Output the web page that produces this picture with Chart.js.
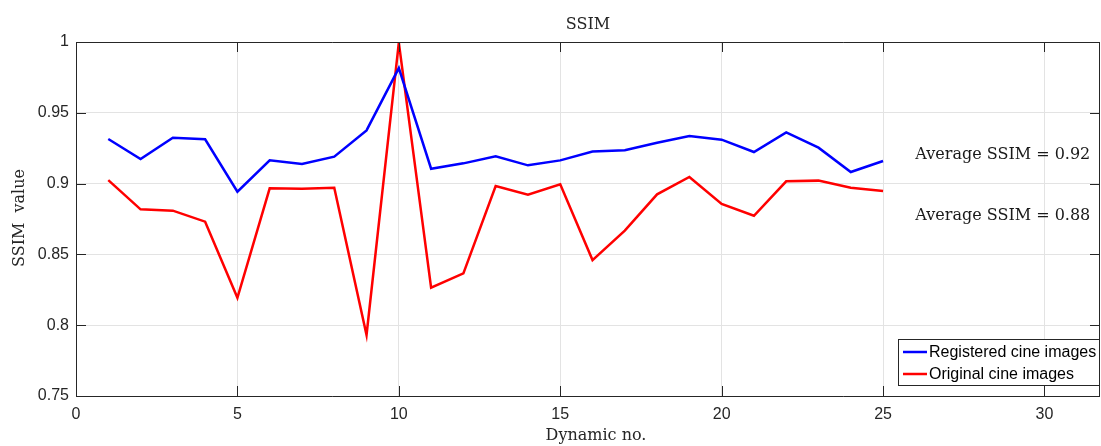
<!DOCTYPE html>
<html>
<head>
<meta charset="utf-8">
<script src="https://cdn.jsdelivr.net/npm/chart.js@4.4.0/dist/chart.umd.min.js"></script>
<style>
  html, body { margin: 0; padding: 0; background: #fff; }
  #wrap { width: 1101px; height: 446px; }
</style>
</head>
<body>
<div id="wrap"><canvas id="ssimChart" width="1101" height="446"></canvas></div>
<script>
var dynamics = [1,2,3,4,5,6,7,8,9,10,11,12,13,14,15,16,17,18,19,20,21,22,23,24,25];
var registered = [0.9315,0.9174,0.9324,0.9313,0.8943,0.9164,0.9138,0.9190,0.9376,0.9816,
                  0.9105,0.9143,0.9193,0.9129,0.9164,0.9226,0.9235,0.9289,0.9336,0.9310,
                  0.9223,0.9362,0.9254,0.9082,0.9160];
var original = [0.9025,0.8818,0.8809,0.8731,0.8194,0.8967,0.8964,0.8971,0.7931,0.9995,
                0.8265,0.8366,0.8983,0.8922,0.8995,0.8460,0.8668,0.8924,0.9047,0.8856,
                0.8773,0.9016,0.9021,0.8971,0.8948];
var seriesNames = ["Registered cine images", "Original cine images"];
var notes = ["Average SSIM = 0.92", "Average SSIM = 0.88"];
var notePos = [[26, 0.9205], [26, 0.877]];

var axisColor = '#262626';
var serif = '"DejaVu Serif", "Liberation Serif", serif';
var sans = '"Liberation Sans", Arial, sans-serif';

function toPoints(ys) {
    return dynamics.map(function(x, i){ return {x: x, y: ys[i]}; });
}

// box, inner ticks, title, labels, text notes and legend in MATLAB style
var matlabLook = {
    id: 'matlabLook',
    afterDraw: function(chart) {
        var ctx = chart.ctx;
        var a = chart.chartArea;
        var xs = chart.scales.x, ys = chart.scales.y;
        ctx.save();
        ctx.strokeStyle = axisColor;
        ctx.lineWidth = 1;
        ctx.beginPath();
        ctx.rect(a.left + 0.5, a.top + 0.5, a.right - a.left - 1, a.bottom - a.top);
        ctx.stroke();
        ctx.beginPath();
        xs.ticks.forEach(function(t){
            var px = Math.round(xs.getPixelForValue(t.value)) + 0.5;
            ctx.moveTo(px, a.bottom); ctx.lineTo(px, a.bottom - 10);
            ctx.moveTo(px, a.top); ctx.lineTo(px, a.top + 10);
        });
        ys.ticks.forEach(function(t){
            var py = Math.round(ys.getPixelForValue(t.value)) + 0.5;
            ctx.moveTo(a.left, py); ctx.lineTo(a.left + 10, py);
            ctx.moveTo(a.right, py); ctx.lineTo(a.right - 10, py);
        });
        ctx.stroke();

        // title and axis labels
        ctx.fillStyle = '#262626';
        ctx.textAlign = 'center';
        ctx.textBaseline = 'middle';
        ctx.font = '16px ' + serif;
        ctx.fillText('SSIM', (a.left + a.right) / 2, 25);
        ctx.fillText('Dynamic no.', 596, 436);
        ctx.save();
        ctx.translate(20, 218);
        ctx.rotate(-Math.PI / 2);
        ctx.fillText('SSIM  value', 0, 0);
        ctx.restore();

        // average notes
        ctx.font = '16px ' + serif;
        ctx.textAlign = 'left';
        ctx.fillStyle = '#1a1a1a';
        notes.forEach(function(n, i){
            ctx.fillText(n, xs.getPixelForValue(notePos[i][0]), ys.getPixelForValue(notePos[i][1]));
        });

        // legend
        var lx = 898, ly = 339, lw = 201, lh = 46;
        ctx.fillStyle = '#fff';
        ctx.fillRect(lx, ly, lw, lh);
        ctx.strokeStyle = axisColor;
        ctx.lineWidth = 1;
        ctx.strokeRect(lx + 0.5, ly + 0.5, lw, lh);
        var cols = ['#0000ff', '#ff0000'];
        ctx.font = '16px ' + sans;
        ctx.textBaseline = 'middle';
        seriesNames.forEach(function(s, i){
            var yy = ly + 13 + i * 22;
            ctx.strokeStyle = cols[i];
            ctx.lineWidth = 2.5;
            ctx.beginPath();
            ctx.moveTo(lx + 5, yy); ctx.lineTo(lx + 29, yy);
            ctx.stroke();
            ctx.fillStyle = '#000';
            ctx.fillText(s, lx + 31, yy + 1);
        });
        ctx.restore();
    }
};

var ctx = document.getElementById('ssimChart').getContext('2d');
var chartData = {
    type: 'line',
    data: {
        datasets: [{
            label: seriesNames[0],
            data: toPoints(registered),
            borderColor: '#0000ff',
            borderWidth: 2.5,
            pointRadius: 0,
            tension: 0
        }, {
            label: seriesNames[1],
            data: toPoints(original),
            borderColor: '#ff0000',
            borderWidth: 2.5,
            pointRadius: 0,
            tension: 0
        }]
    },
    options: {
        responsive: false,
        animation: false,
        layout: { padding: { top: 42, right: 1, left: 0, bottom: 0 } },
        plugins: {
            legend: { display: false },
            title: { display: false },
            tooltip: { enabled: false }
        },
        scales: {
            x: {
                type: 'linear',
                min: 0,
                max: 31.72,
                afterFit: function(s){ s.height = 50; },
                afterBuildTicks: function(s){
                    s.ticks = s.ticks.filter(function(t){ return t.value % 5 === 0; });
                },
                ticks: {
                    stepSize: 5,
                    includeBounds: false,
                    maxRotation: 0,
                    autoSkip: false,
                    padding: 9,
                    color: '#262626',
                    font: { family: sans, size: 16 }
                },
                grid: { color: '#e3e3e3', drawTicks: false },
                border: { display: false }
            },
            y: {
                min: 0.75,
                max: 1,
                afterFit: function(s){ s.width = 76; },
                ticks: {
                    stepSize: 0.05,
                    padding: 7,
                    color: '#262626',
                    font: { family: sans, size: 16 },
                    callback: function(v){ return String(+v.toFixed(2)); }
                },
                grid: { color: '#e3e3e3', drawTicks: false },
                border: { display: false }
            }
        }
    },
    plugins: [matlabLook]
};

var ssimChart = new Chart(ctx, chartData);
</script>
</body>
</html>
